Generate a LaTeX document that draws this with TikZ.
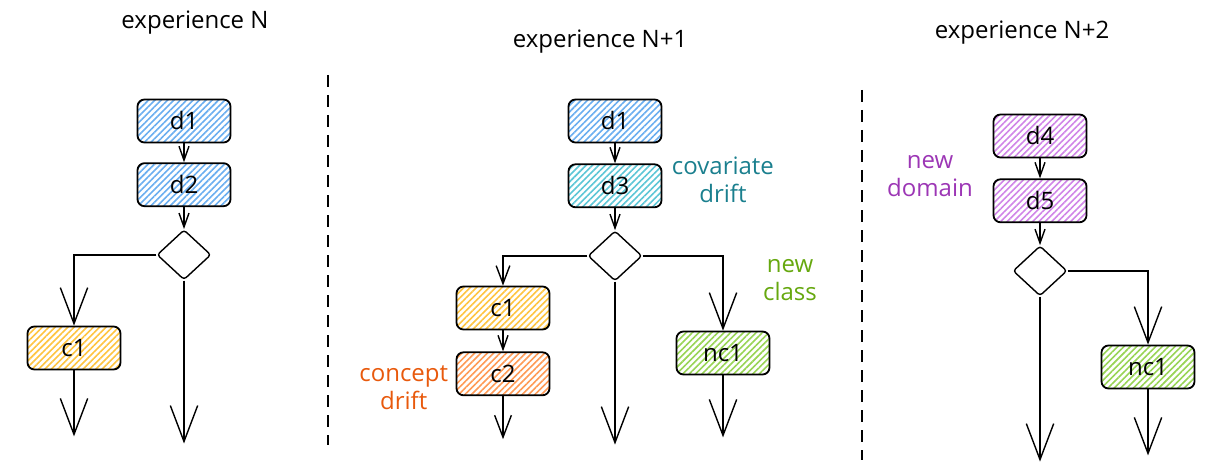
\documentclass[tikz,border=0pt]{standalone}
\usepackage{fontspec}
\setmainfont{Open Sans}
\usetikzlibrary{positioning,shapes.geometric,arrows.meta,patterns.meta}
\newcommand{\lbl}{\fontsize{24}{28}\selectfont}
\definecolor{hblue}{HTML}{6AAEF0}
\definecolor{hteal}{HTML}{5CC6D6}
\definecolor{hyellow}{HTML}{FFC440}
\definecolor{horange}{HTML}{FF9A55}
\definecolor{hgreen}{HTML}{98D455}
\definecolor{hviolet}{HTML}{D085E8}
\definecolor{tteal}{HTML}{1A7F8E}
\definecolor{torange}{HTML}{E8590C}
\definecolor{tgreen}{HTML}{66A80F}
\definecolor{tviolet}{HTML}{9C36B5}
\tikzset{
    box/.style={draw, line width=1.8pt, rounded corners=7pt,
        minimum width=93pt, minimum height=43pt, inner sep=0pt, font=\lbl},
    hatch/.style={pattern={Lines[angle=45,distance=4.5pt,line width=1.6pt]},
        pattern color=#1},
    choice/.style={diamond, draw, line width=1.4pt, rounded corners=3pt,
        minimum width=54pt, minimum height=50pt, inner sep=0pt},
    note/.style={align=center, font=\lbl},
    flow/.style={line width=1.4pt, -{Straight Barb[length=14pt,width=10pt]}},
    branch/.style={line width=1.4pt, -{Straight Barb[length=#1,width'=0pt 0.76]}},
    branch/.default=36pt,
    sep/.style={line width=1.5pt, dash pattern=on 12pt off 8pt}
}

\begin{document}
\begin{tikzpicture}[x=1pt, y=-1pt]
\useasboundingbox (0,0) rectangle (1222,465);

\node[note] (t1) at (195,23) {experience N};
\node[box, hatch=hblue] (d1) at (184,121) {d1};
\node[box, hatch=hblue, below=19pt of d1] (d2) {d2};
\node[choice, below=22pt of d2] (q1) {};
\node[box, hatch=hyellow] (c1) at (74,348) {c1};
\coordinate[below=66pt of c1] (c1out);
\coordinate[below=163pt of q1] (q1out);
\draw[flow] (d1) -- (d2);
\draw[flow] (d2) -- (q1);
\draw[branch] (q1.west) -| (c1.north);
\draw[branch] (c1) -- (c1out);
\draw[branch] (q1) -- (q1out);

\draw[sep] (328,75) -- (328,445);

\node[note] (t2) at (600,42) {experience N+1};
\node[box, hatch=hblue] (d1b) at (615,121) {d1};
\node[box, hatch=hteal, below=20pt of d1b] (d3) {d3};
\node[choice, below=22pt of d3] (q2) {};
\node[note, text=tteal, right=6pt of d3, yshift=6pt] (cov) {covariate\\drift};
\node[box, hatch=hyellow] (c1b) at (503,308) {c1};
\node[box, hatch=horange, below=21pt of c1b] (c2) {c2};
\node[note, text=torange, left=4pt of c2, yshift=-14pt] (con) {concept\\drift};
\node[box, hatch=hgreen] (nc1b) at (723,353) {nc1};
\node[note, text=tgreen] (ncl) at (790,280) {new\\class};
\coordinate[below=43pt of c2] (c2out);
\coordinate[below=163pt of q2] (q2out);
\coordinate[below=62pt of nc1b] (nc1bout);
\draw[flow] (d1b) -- (d3);
\draw[flow] (d3) -- (q2);
\draw[flow] (c1b) -- (c2);
\draw[branch=18pt] (q2.west) -| (c1b.north);
\draw[branch] (q2.east) -| (nc1b.north);
\draw[branch=22pt] (c2) -- (c2out);
\draw[branch] (q2) -- (q2out);
\draw[branch] (nc1b) -- (nc1bout);

\draw[sep] (862,90) -- (862,460);

\node[note] (t3) at (1022,33) {experience N+2};
\node[box, hatch=hviolet] (d4) at (1040,136) {d4};
\node[box, hatch=hviolet, below=20pt of d4] (d5) {d5};
\node[choice, below=22pt of d5] (q3) {};
\node[note, text=tviolet] (dom) at (930,176) {new\\domain};
\node[box, hatch=hgreen] (nc1c) at (1148,367) {nc1};
\coordinate[below=165pt of q3] (q3out);
\coordinate[below=66pt of nc1c] (nc1cout);
\draw[flow] (d4) -- (d5);
\draw[flow] (d5) -- (q3);
\draw[branch] (q3.east) -| (nc1c.north);
\draw[branch] (q3) -- (q3out);
\draw[branch] (nc1c) -- (nc1cout);
\end{tikzpicture}
\end{document}
